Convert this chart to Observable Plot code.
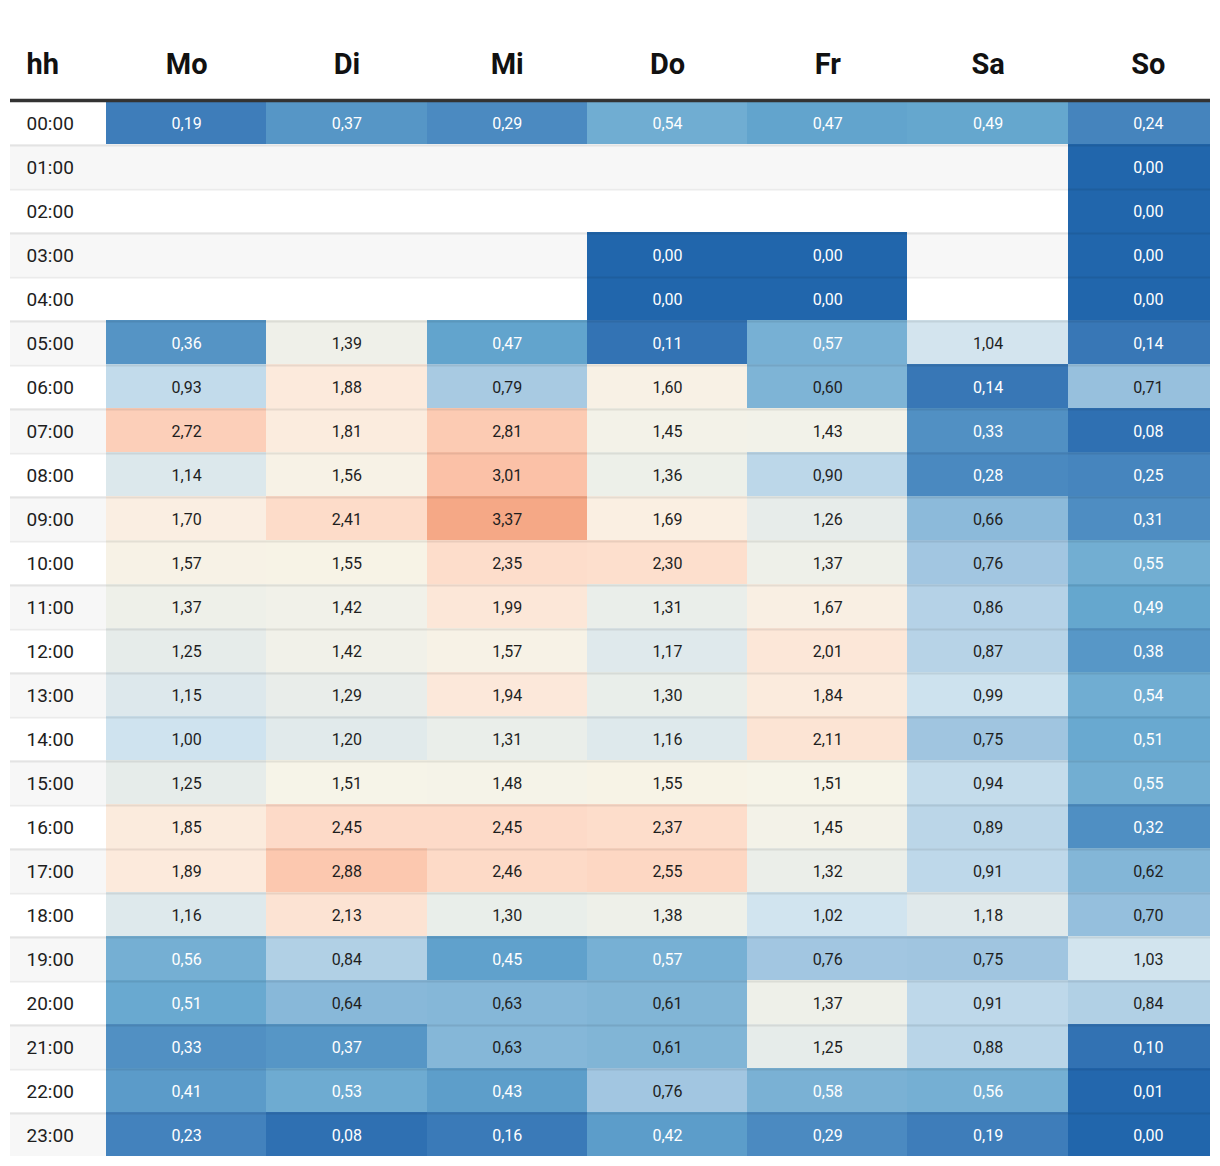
<!DOCTYPE html>
<html>
<head>
<meta charset="utf-8">
<script src="https://cdn.jsdelivr.net/npm/d3@7"></script>
<script src="https://cdn.jsdelivr.net/npm/@observablehq/plot@0.6"></script>
<style>
  html, body { margin: 0; padding: 0; background: #fff; }
  body { font-family: Roboto, sans-serif; }
</style>
</head>
<body>
<div id="chart"></div>
<script>
// ---- data ----
const days = ["Mo", "Di", "Mi", "Do", "Fr", "Sa", "So"];
const hours = ["00:00","01:00","02:00","03:00","04:00","05:00","06:00","07:00","08:00","09:00","10:00","11:00",
               "12:00","13:00","14:00","15:00","16:00","17:00","18:00","19:00","20:00","21:00","22:00","23:00"];
const mo = [0.19,null,null,null,null,0.36,0.93,2.72,1.14,1.70,1.57,1.37,1.25,1.15,1.00,1.25,1.85,1.89,1.16,0.56,0.51,0.33,0.41,0.23];
const di = [0.37,null,null,null,null,1.39,1.88,1.81,1.56,2.41,1.55,1.42,1.42,1.29,1.20,1.51,2.45,2.88,2.13,0.84,0.64,0.37,0.53,0.08];
const mi = [0.29,null,null,null,null,0.47,0.79,2.81,3.01,3.37,2.35,1.99,1.57,1.94,1.31,1.48,2.45,2.46,1.30,0.45,0.63,0.63,0.43,0.16];
const dO = [0.54,null,null,0.00,0.00,0.11,1.60,1.45,1.36,1.69,2.30,1.31,1.17,1.30,1.16,1.55,2.37,2.55,1.38,0.57,0.61,0.61,0.76,0.42];
const fr = [0.47,null,null,0.00,0.00,0.57,0.60,1.43,0.90,1.26,1.37,1.67,2.01,1.84,2.11,1.51,1.45,1.32,1.02,0.76,1.37,1.25,0.58,0.29];
const sa = [0.49,null,null,null,null,1.04,0.14,0.33,0.28,0.66,0.76,0.86,0.87,0.99,0.75,0.94,0.89,0.91,1.18,0.75,0.91,0.88,0.56,0.19];
const so = [0.24,0.00,0.00,0.00,0.00,0.14,0.71,0.08,0.25,0.31,0.55,0.49,0.38,0.54,0.51,0.55,0.32,0.62,0.70,1.03,0.84,0.10,0.01,0.00];

// colour stops (value -> colour)
const colorStops = [0, 0.25, 0.5, 0.75, 1.0, 1.25, 1.5, 1.75, 2.0, 2.5, 3.0, 3.37];
const colorRange = ["#2166ac","#4685be","#66a8cf","#a0c5e0","#cfe3ef","#e6ecea","#f6f4e8","#fbede0","#fce7d8","#fdd9c6","#fbc2a8","#f5a886"];

// ---- table built from the arrays ----
const series = [mo, di, mi, dO, fr, sa, so];
const rows = hours.map((h, i) => ({hour: h, row: i}));
const cells = [];
days.forEach((day, j) => {
  series[j].forEach((v, i) => {
    if (v != null) cells.push({day, hour: hours[i], row: i, value: v});
  });
});
const fmt = v => v.toFixed(2).replace(".", ",");

const chart = Plot.plot({
  width: 1220,
  height: 1166,
  marginTop: 100,
  marginBottom: 10,
  marginLeft: 10,
  marginRight: 10,
  style: {fontFamily: "Roboto, sans-serif", background: "#fff"},
  x: {type: "band", domain: days, range: [106, 1228], padding: 0, round: false, axis: null},
  y: {type: "linear", domain: [0, hours.length], range: [100, 1156], axis: null},
  color: {type: "linear", domain: colorStops, range: colorRange, interpolate: "lab"},
  marks: [
    // alternating row background
    Plot.rect(rows.filter(r => r.row % 2 === 1), {y1: "row", y2: d => d.row + 1, fill: "#f7f7f7", shapeRendering: "crispEdges"}),
    // heat cells
    Plot.barY(cells, {x: "day", y1: "row", y2: d => d.row + 1, fill: "value", clip: true, shapeRendering: "crispEdges"}),
    // row separators
    Plot.ruleY(rows.slice(1), {y: "row", stroke: "#000", strokeOpacity: 0.08, strokeWidth: 2, dy: 1}),
    // header rule
    Plot.ruleY([0], {stroke: "#333", strokeWidth: 3.6}),
    // hour labels
    Plot.text(rows, {y: d => d.row + 0.5, text: "hour", frameAnchor: "left", dx: 16, dy: 1,
                     textAnchor: "start", fontSize: 19, fill: "#1e1e1e"}),
    // value labels
    Plot.text(cells, {x: "day", y: d => d.row + 0.5, text: d => fmt(d.value), dy: 1, fontSize: 16,
                      fill: d => d.value < 0.585 ? "#ffffff" : "#1e1e1e"}),
    // headers
    Plot.text(["hh"], {text: d => d, frameAnchor: "top-left", dx: 16, dy: -27, lineAnchor: "bottom",
                       textAnchor: "start", fontSize: 29, fontWeight: "bold", fill: "#111"}),
    Plot.text(days, {x: d => d, text: d => d, frameAnchor: "top", dy: -27, lineAnchor: "bottom",
                     fontSize: 29, fontWeight: "bold", fill: "#111"})
  ]
});
document.getElementById("chart").appendChild(chart);
</script>
</body>
</html>
